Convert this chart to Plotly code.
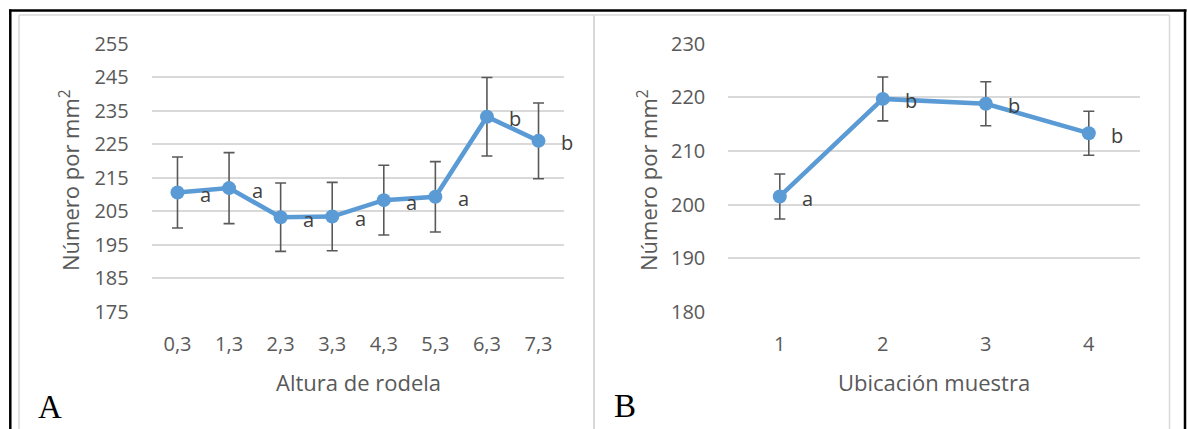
import plotly.graph_objects as go

# ---- data ----
alturas = ["0,3", "1,3", "2,3", "3,3", "4,3", "5,3", "6,3", "7,3"]
numero_a = [210.6, 211.9, 203.2, 203.4, 208.3, 209.3, 233.2, 226.0]
error_a = [10.6, 10.6, 10.2, 10.2, 10.4, 10.5, 11.7, 11.3]
letras_a = ["a", "a", "a", "a", "a", "a", "b", "b"]

ubicacion = ["1", "2", "3", "4"]
numero_b = [201.5, 219.7, 218.8, 213.3]
error_b = [4.2, 4.1, 4.1, 4.1]
letras_b = ["a", "b", "b", "b"]

W, H = 1187, 429
BLUE = "#5B9BD5"
GRID = "#d9d9d9"
TICK = "#595959"
FONT = "Open Sans"


def px(x):
    return x / W


def py(y):
    return 1 - y / H


fig = go.Figure()

for xs, ys, es, xa, ya in [
    (alturas, numero_a, error_a, "x", "y"),
    (ubicacion, numero_b, error_b, "x2", "y2"),
]:
    fig.add_trace(go.Scatter(
        x=xs, y=ys, xaxis=xa, yaxis=ya, mode="lines+markers",
        line=dict(color=BLUE, width=4.5),
        marker=dict(color=BLUE, size=14),
        error_y=dict(type="data", array=es, visible=True,
                     color="#595959", thickness=1.6, width=5.5),
        showlegend=False, hoverinfo="skip",
    ))

annotations = []
for xs, ys, ls, xa, ya in [
    (alturas, numero_a, letras_a, "x", "y"),
    (ubicacion, numero_b, letras_b, "x2", "y2"),
]:
    for i, (yv, lv) in enumerate(zip(ys, ls)):
        annotations.append(dict(
            x=i, y=yv, xref=xa, yref=ya, text=lv, showarrow=False,
            xanchor="center", yanchor="middle",
            xshift=28, yshift=-2, font=dict(family=FONT, size=20, color="#404040"),
        ))


def label(x, y, text, size, family=FONT, color=TICK, angle=0):
    return dict(x=px(x), y=py(y), xref="paper", yref="paper", text=text,
                xanchor="center", yanchor="middle", textangle=angle,
                showarrow=False, font=dict(family=family, size=size, color=color))


# axis titles and panel letters
annotations += [
    label(358, 382, "Altura de rodela", 22),
    label(934, 382, "Ubicación muestra", 22),
    label(69, 180, "Número por mm<sup>2</sup>", 22, angle=-90),
    label(647, 180, "Número por mm<sup>2</sup>", 22, angle=-90),
    label(50, 407, "A", 33, family="Liberation Serif", color="#000000"),
    label(625, 406, "B", 33, family="Liberation Serif", color="#000000"),
]

shapes = [
    # gray chart frames
    dict(type="line", xref="paper", yref="paper", x0=px(19), x1=px(1169.5), y0=py(15), y1=py(15),
         line=dict(color=GRID, width=1.5)),
    dict(type="line", xref="paper", yref="paper", x0=px(19), x1=px(19), y0=py(15), y1=0,
         line=dict(color=GRID, width=1.5)),
    dict(type="line", xref="paper", yref="paper", x0=px(594), x1=px(594), y0=py(15), y1=0,
         line=dict(color=GRID, width=2)),
    dict(type="line", xref="paper", yref="paper", x0=px(1169.5), x1=px(1169.5), y0=py(15), y1=0,
         line=dict(color=GRID, width=1.5)),
    # black outer border
    dict(type="line", xref="paper", yref="paper", x0=px(9), x1=px(1186.5), y0=py(10.5), y1=py(10.5),
         line=dict(color="#000000", width=2.5)),
    dict(type="line", xref="paper", yref="paper", x0=px(10.3), x1=px(10.3), y0=py(9.5), y1=0,
         line=dict(color="#000000", width=2.5)),
    dict(type="line", xref="paper", yref="paper", x0=px(1185), x1=px(1185), y0=py(9.5), y1=0,
         line=dict(color="#000000", width=2.5)),
]

axis_common = dict(showline=False, zeroline=False, ticks="", automargin=False,
                   tickfont=dict(family=FONT, size=20, color=TICK))

fig.update_layout(
    width=W, height=H,
    margin=dict(l=0, r=0, t=0, b=0, pad=0, autoexpand=False),
    paper_bgcolor="white", plot_bgcolor="white",
    xaxis=dict(domain=[px(151.7), px(564.3)], anchor="y", type="category",
               range=[-0.5, 7.5], showgrid=False, ticklabelstandoff=18, **axis_common),
    yaxis=dict(domain=[py(311.7), py(43.7)], anchor="x", range=[175, 255],
               tick0=175, dtick=10, showgrid=True, gridcolor=GRID, gridwidth=1.5,
               ticklabelstandoff=22, **axis_common),
    xaxis2=dict(domain=[px(728.3), px(1140.3)], anchor="y2", type="category",
                range=[-0.5, 3.5], showgrid=False, ticklabelstandoff=18, **axis_common),
    yaxis2=dict(domain=[py(311.7), py(43.7)], anchor="x2", range=[180, 230],
                tick0=180, dtick=10, showgrid=True, gridcolor=GRID, gridwidth=1.5,
                ticklabelstandoff=22, **axis_common),
    annotations=annotations,
    shapes=shapes,
)

fig.write_html(
    "out.html",
    config={"displayModeBar": False},
    post_script=(
        "document.body.style.margin='0';"
        "document.body.style.padding='0';"
        "document.documentElement.style.overflow='hidden';"
        "document.body.style.overflow='hidden';"
    ),
)
